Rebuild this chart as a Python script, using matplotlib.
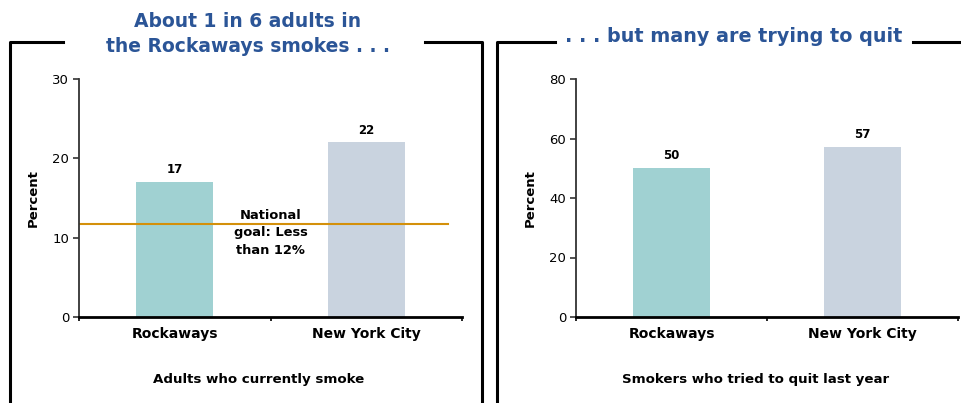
import matplotlib
matplotlib.use("Agg")
import matplotlib.pyplot as plt
from matplotlib.lines import Line2D

places = ["Rockaways", "New York City"]
smoke_pct = [17, 22]
quit_pct = [50, 57]
goal_pct = 11.7
bar_colors = ["#A0D1D2", "#C9D3DF"]
title_color = "#2B5597"

W, H = 961, 403
fig = plt.figure(figsize=(W / 100, H / 100), dpi=100)
plt.rcParams["font.family"] = "DejaVu Sans"


def px(x0, y0, x1, y1):
    # pixel box (top-left origin) -> figure fraction rect
    return [x0 / W, 1 - y1 / H, (x1 - x0) / W, (y1 - y0) / H]


def frame_line(xs, ys):
    fig.add_artist(Line2D([x / W for x in xs], [1 - y / H for y in ys],
                          color="black", lw=2.2, transform=fig.transFigure))


def bar_panel(rect, values, ymax, step, xlabel):
    ax = fig.add_axes(rect)
    x = range(len(values))
    ax.bar(x, values, width=0.4, color=bar_colors)
    for xi, v in zip(x, values):
        ax.text(xi, v + ymax * 0.025, str(v), ha="center", va="bottom",
                fontsize=8.5, fontweight="bold")
    ax.set_xlim(-0.5, 1.5)
    ax.set_ylim(0, ymax)
    ax.set_yticks(range(0, ymax + 1, step))
    ax.set_xticks([-0.5, 0.5, 1.5])
    ax.set_xticklabels([])
    ax.tick_params(axis="x", length=3, width=1.2, direction="out")
    ax.tick_params(axis="y", length=4, width=1.2, labelsize=9.5, pad=3,
                   color="#333333")
    for xi, name in zip(x, places):
        ax.text(xi, -0.04, name, transform=ax.get_xaxis_transform(),
                ha="center", va="top", fontsize=10, fontweight="bold")
    ax.text(0.47, -0.235, xlabel, transform=ax.transAxes, ha="center",
            va="top", fontsize=9.6, fontweight="bold")
    ax.set_ylabel("Percent", fontsize=9.5, fontweight="bold", labelpad=9)
    for s in ["top", "right"]:
        ax.spines[s].set_visible(False)
    ax.spines["left"].set_color("#333333")
    ax.spines["left"].set_linewidth(1.3)
    ax.spines["bottom"].set_linewidth(2)
    return ax


ax1 = bar_panel(px(79, 79, 462, 317), smoke_pct, 30, 10,
                "Adults who currently smoke")
ax1.axhline(goal_pct, xmin=0, xmax=0.963, color="#D4900A", lw=1.5)
ax1.text(0.5, goal_pct - 1.1, "National\ngoal: Less\nthan 12%",
         ha="center", va="center", fontsize=9.4, fontweight="bold",
         linespacing=1.45)

ax2 = bar_panel(px(576, 79, 958, 317), quit_pct, 80, 20,
                "Smokers who tried to quit last year")

# panel frames
frame_line([63, 10, 10], [42, 42, 403])
frame_line([425, 482, 482], [42, 42, 403])
frame_line([555, 497, 497], [42, 42, 403])
frame_line([913, 961], [42, 42])

fig.text(248 / W, 1 - 34 / H, "About 1 in 6 adults in\nthe Rockaways smokes . . .",
         ha="center", va="center", fontsize=13.5, fontweight="bold",
         color=title_color, linespacing=1.4)
fig.text(734 / W, 1 - 37 / H, ". . . but many are trying to quit",
         ha="center", va="center", fontsize=13.8, fontweight="bold",
         color=title_color)

fig.savefig("out.png", dpi=100)
